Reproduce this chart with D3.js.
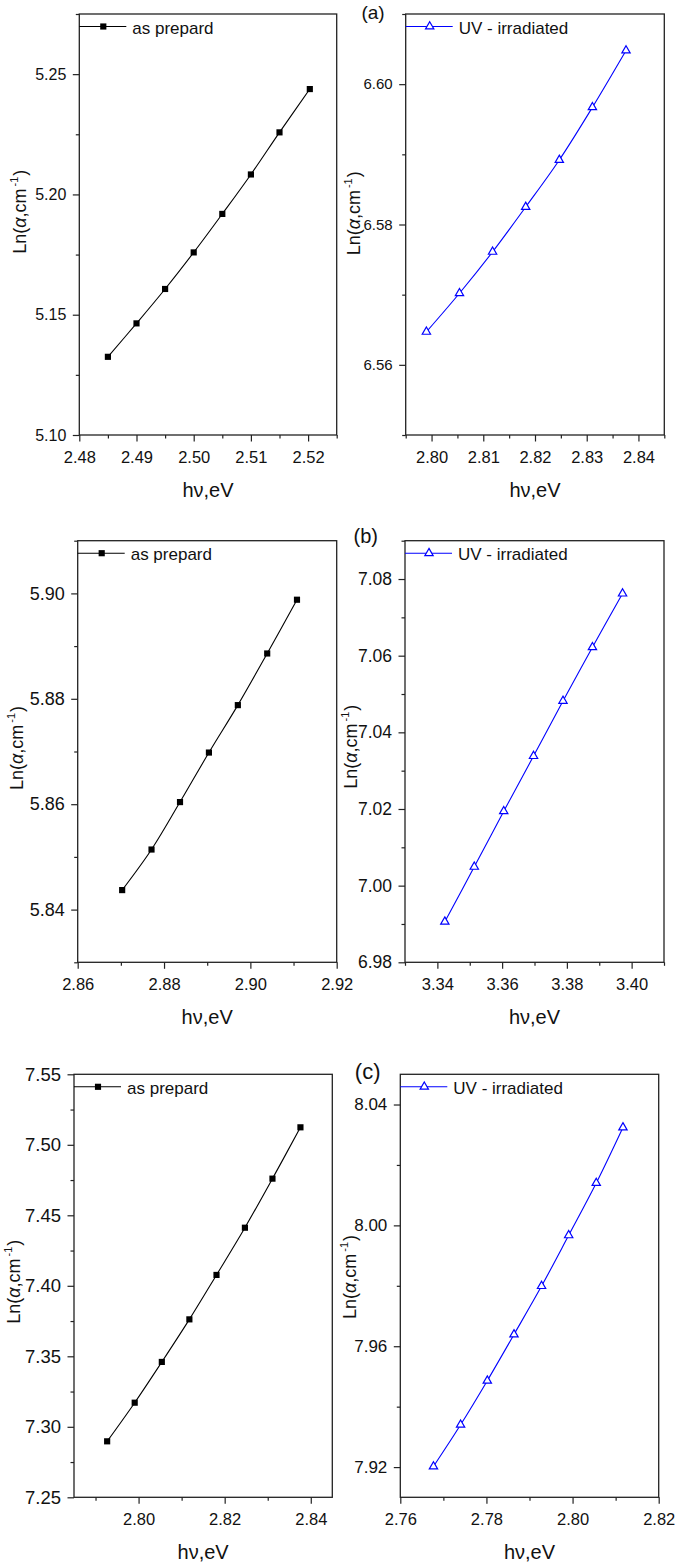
<!DOCTYPE html>
<html><head><meta charset="utf-8">
<script src="https://cdn.jsdelivr.net/npm/d3@7"></script>
<style>
body{margin:0;background:#fff}
svg{display:block}
text{font-family:"Liberation Sans",Arial,Helvetica,sans-serif;fill:#111}
</style>
</head><body>
<svg id="chart" width="675" height="1568"></svg>
<script>
// ---------------- DATA ----------------
const seriesNames = ["as prepard", "UV - irradiated"];
const panelTags = ["(a)", "(b)", "(c)"];
const xTitle = "hν,eV";

// (a) as prepared
const asPrepA_hv = [2.485, 2.490, 2.495, 2.500, 2.505, 2.510, 2.515, 2.5203];
const asPrepA_ln = [5.1325, 5.1464, 5.1607, 5.1759, 5.1919, 5.2083, 5.2258, 5.2438];
// (a) UV irradiated
const uvA_hv = [2.7990, 2.8054, 2.8118, 2.8182, 2.8247, 2.8311, 2.8376];
const uvA_ln = [6.5647, 6.5702, 6.5761, 6.5825, 6.5892, 6.5967, 6.6048];
// (b) as prepared
const asPrepB_hv = [2.8703, 2.8771, 2.8837, 2.8904, 2.8971, 2.9039, 2.9108];
const asPrepB_ln = [5.8437, 5.8514, 5.8604, 5.8698, 5.8788, 5.8886, 5.8988];
// (b) UV irradiated
const uvB_hv = [3.3423, 3.3514, 3.3605, 3.3697, 3.3788, 3.3879, 3.3972];
const uvB_ln = [6.9906, 7.0049, 7.0194, 7.0338, 7.0482, 7.0622, 7.0762];
// (c) as prepared
const asPrepC_hv = [2.7927, 2.7991, 2.8054, 2.8118, 2.8181, 2.8247, 2.8311, 2.8376];
const asPrepC_ln = [7.2897, 7.3171, 7.3460, 7.3762, 7.4077, 7.4412, 7.4760, 7.5124];
// (c) UV irradiated
const uvC_hv = [2.7677, 2.7740, 2.7802, 2.7864, 2.7928, 2.7991, 2.8055, 2.8117];
const uvC_ln = [7.9202, 7.9340, 7.9486, 7.9639, 7.9799, 7.9967, 8.0140, 8.0324];

// axis domains and ticks
const xDomA1 = [2.48, 2.525], yDomA1 = [5.10, 5.275];
const xTickA1 = [2.48, 2.49, 2.50, 2.51, 2.52], xMinorA1 = [2.485, 2.495, 2.505, 2.515, 2.525];
const yTickA1 = [5.10, 5.15, 5.20, 5.25], yMinorA1 = [5.125, 5.175, 5.225, 5.275];

const xDomA2 = [2.795, 2.845], yDomA2 = [6.55, 6.61];
const xTickA2 = [2.80, 2.81, 2.82, 2.83, 2.84], xMinorA2 = [2.795, 2.805, 2.815, 2.825, 2.835, 2.845];
const yTickA2 = [6.56, 6.58, 6.60], yMinorA2 = [6.55, 6.57, 6.59, 6.61];

const xDomB1 = [2.86, 2.92], yDomB1 = [5.83, 5.91];
const xTickB1 = [2.86, 2.88, 2.90, 2.92], xMinorB1 = [2.87, 2.89, 2.91];
const yTickB1 = [5.84, 5.86, 5.88, 5.90], yMinorB1 = [5.83, 5.85, 5.87, 5.89, 5.91];

const xDomB2 = [3.33, 3.41], yDomB2 = [6.98, 7.09];
const xTickB2 = [3.34, 3.36, 3.38, 3.40], xMinorB2 = [3.33, 3.35, 3.37, 3.39, 3.41];
const yTickB2 = [6.98, 7.00, 7.02, 7.04, 7.06, 7.08], yMinorB2 = [6.99, 7.01, 7.03, 7.05, 7.07, 7.09];

const xDomC1 = [2.785, 2.845], yDomC1 = [7.25, 7.55];
const xTickC1 = [2.80, 2.82, 2.84], xMinorC1 = [2.79, 2.81, 2.83];
const yTickC1 = [7.25, 7.30, 7.35, 7.40, 7.45, 7.50, 7.55], yMinorC1 = [7.275, 7.325, 7.375, 7.425, 7.475, 7.525];

const xDomC2 = [2.76, 2.82], yDomC2 = [7.91, 8.05];
const xTickC2 = [2.76, 2.78, 2.80, 2.82], xMinorC2 = [2.77, 2.79, 2.81];
const yTickC2 = [7.92, 7.96, 8.00, 8.04], yMinorC2 = [7.94, 7.98, 8.02];

// ---------------- LAYOUT ----------------
const panels = [
  {hv: asPrepA_hv, ln: asPrepA_ln, xd: xDomA1, yd: yDomA1, xt: xTickA1, xm: xMinorA1, yt: yTickA1, ym: yMinorA1,
   s: 0, box: [79.3, 14, 336.7, 435], yFont: 16, yLab: [26, 211.7]},
  {hv: uvA_hv, ln: uvA_ln, xd: xDomA2, yd: yDomA2, xt: xTickA2, xm: xMinorA2, yt: yTickA2, ym: yMinorA2,
   s: 1, box: [405.7, 14, 664.3, 435], yFont: 15, yLab: [360, 213.3], tag: 0, tagPos: [373, 18.5], tagFont: 19},
  {hv: asPrepB_hv, ln: asPrepB_ln, xd: xDomB1, yd: yDomB1, xt: xTickB1, xm: xMinorB1, yt: yTickB1, ym: yMinorB1,
   s: 0, box: [77.7, 540.7, 336.7, 962.3], yFont: 18, yLab: [22.7, 748]},
  {hv: uvB_hv, ln: uvB_ln, xd: xDomB2, yd: yDomB2, xt: xTickB2, xm: xMinorB2, yt: yTickB2, ym: yMinorB2,
   s: 1, box: [405, 540.7, 664, 962.3], yFont: 17.5, yLab: [356.7, 746.7], tag: 1, tagPos: [365.7, 542.5], tagFont: 20},
  {hv: asPrepC_hv, ln: asPrepC_ln, xd: xDomC1, yd: yDomC1, xt: xTickC1, xm: xMinorC1, yt: yTickC1, ym: yMinorC1,
   s: 0, box: [74, 1074.3, 332.3, 1497.3], yFont: 18.5, yLab: [20, 1281.7]},
  {hv: uvC_hv, ln: uvC_ln, xd: xDomC2, yd: yDomC2, xt: xTickC2, xm: xMinorC2, yt: yTickC2, ym: yMinorC2,
   s: 1, box: [400.3, 1074.3, 658.7, 1497.3], yFont: 17, yLab: [355.7, 1277], tag: 2, tagPos: [367.7, 1079], tagFont: 22}
];
const colors = ["#000000", "#0000ff"];
const fmt = d3.format(".2f");

const svg = d3.select("#chart");

panels.forEach(p => {
  const [x0, y0, x1, y1] = p.box;
  const x = d3.scaleLinear().domain(p.xd).range([x0, x1]);
  const y = d3.scaleLinear().domain(p.yd).range([y1, y0]);
  const g = svg.append("g");
  const col = colors[p.s];

  // minor ticks
  g.append("g").attr("transform", `translate(0,${y1})`)
    .call(d3.axisBottom(x).tickValues(p.xm).tickSize(3.5).tickFormat("").tickSizeOuter(0))
    .call(a => a.select(".domain").remove());
  g.append("g").attr("transform", `translate(${x0},0)`)
    .call(d3.axisLeft(y).tickValues(p.ym).tickSize(3.5).tickFormat("").tickSizeOuter(0))
    .call(a => a.select(".domain").remove());

  // major ticks
  const xa = g.append("g").attr("transform", `translate(0,${y1})`)
    .call(d3.axisBottom(x).tickValues(p.xt).tickSize(6.5).tickPadding(9.5).tickFormat(fmt).tickSizeOuter(0));
  xa.select(".domain").remove();
  xa.selectAll("text").attr("font-size", 16.5).style("font-family", "'Liberation Sans',Arial,sans-serif").attr("fill", "#111");
  const ya = g.append("g").attr("transform", `translate(${x0},0)`)
    .call(d3.axisLeft(y).tickValues(p.yt).tickSize(6.5).tickPadding(6.5).tickFormat(fmt).tickSizeOuter(0));
  ya.select(".domain").remove();
  ya.selectAll("text").attr("font-size", p.yFont).style("font-family", "'Liberation Sans',Arial,sans-serif").attr("fill", "#111");
  g.selectAll(".tick line").attr("stroke", "#222").attr("stroke-width", 1.2);

  // frame
  g.append("rect").attr("x", x0).attr("y", y0).attr("width", x1 - x0).attr("height", y1 - y0)
    .attr("fill", "none").attr("stroke", "#222").attr("stroke-width", 1.3);

  // data line
  const pts = p.hv.map((v, i) => [v, p.ln[i]]);
  g.append("path").datum(pts)
    .attr("d", d3.line().x(d => x(d[0])).y(d => y(d[1])).curve(d3.curveCatmullRom))
    .attr("fill", "none").attr("stroke", col).attr("stroke-width", 1.1);

  const sym = p.s === 0 ? d3.symbol(d3.symbolSquare, 38) : d3.symbol(d3.symbolTriangle, 30);
  g.selectAll("path.m").data(pts).enter().append("path").attr("class", "m")
    .attr("transform", d => `translate(${x(d[0])},${y(d[1])})`)
    .attr("d", sym)
    .attr("fill", p.s === 0 ? col : "#fff")
    .attr("stroke", col).attr("stroke-width", p.s === 0 ? 0 : 1.2);

  // legend
  const ly = y0 + 12.5;
  g.append("line").attr("x1", x0).attr("x2", x0 + 47).attr("y1", ly).attr("y2", ly)
    .attr("stroke", col).attr("stroke-width", 1.1);
  g.append("path").attr("transform", `translate(${x0 + 24},${ly})`).attr("d", sym)
    .attr("fill", p.s === 0 ? col : "#fff").attr("stroke", col).attr("stroke-width", p.s === 0 ? 0 : 1.2);
  g.append("text").attr("x", x0 + 53).attr("y", ly + 7).attr("font-size", 17).text(seriesNames[p.s]);

  // x title
  g.append("text").attr("x", (x0 + x1) / 2).attr("y", y1 + 62).attr("text-anchor", "middle")
    .attr("font-size", 20).text(xTitle);

  // y title
  const yt = g.append("text").attr("transform", `translate(${p.yLab[0]},${p.yLab[1]}) rotate(-90)`)
    .attr("text-anchor", "middle").attr("font-size", 18);
  yt.append("tspan").text("Ln(");
  yt.append("tspan").attr("font-style", "italic").text("α");
  yt.append("tspan").text(",cm");
  yt.append("tspan").attr("font-size", 11).attr("dy", -8).attr("dx", 2).text("-1");
  yt.append("tspan").attr("dy", 8).attr("dx", 1).text(")");

  // panel tag
  if (p.tag !== undefined) {
    g.append("text").attr("x", p.tagPos[0]).attr("y", p.tagPos[1]).attr("text-anchor", "middle")
      .attr("font-size", p.tagFont).text(panelTags[p.tag]);
  }
});
</script>
</body></html>
